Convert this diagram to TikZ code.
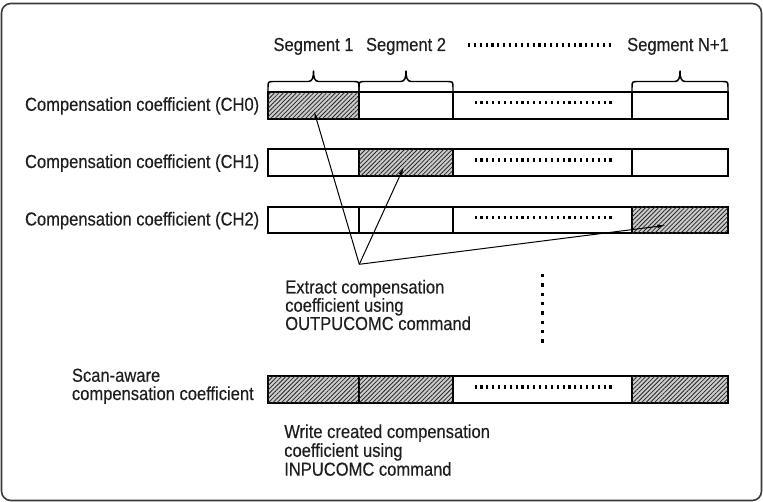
\documentclass[tikz,border=0pt]{standalone}
\usepackage{fontspec}
\setmainfont{Liberation Sans}[FakeStretch=0.88,FakeBold=0.35]
\usetikzlibrary{arrows.meta,patterns.meta,calc}

\definecolor{inkgray}{HTML}{1E1E1E}
\definecolor{framegray}{HTML}{3A3A3A}

\tikzset{
  lbl/.style={inner sep=0pt, text=inkgray, font=\fontsize{14.1pt}{13.7pt}\selectfont},
  cell/.style={draw=black, line width=1.5pt, fill=white, inner sep=0pt,
               minimum height=19.9pt},
  hatched/.style={cell, fill=gray!40,
     postaction={pattern={Lines[angle=45,distance=2.3pt,line width=0.6pt]},
                 pattern color=black!85}},
  brace/.style={draw=black, line width=1.1pt, line join=round},
  fine dots/.style={draw=black, line width=2.3pt, dash pattern=on 1.6pt off 2.8pt},
  big dots/.style={draw=black, line width=2.6pt, dash pattern=on 2.6pt off 4.4pt},
  pick/.style={draw=black, line width=0.75pt, -{Latex[length=6.5pt,width=2.8pt]}},
}

\begin{document}
\begin{tikzpicture}[x=0.75pt,y=-0.75pt]
\useasboundingbox (0,0) rectangle (763,502);

% outer frame
\draw[framegray, line width=1.2pt, rounded corners=7pt] (1.5,3.5) rectangle (761.5,500.5);

% segment headings
\node[lbl, anchor=base] (hs1) at (313.5,51) {Segment 1};
\node[lbl, anchor=base] (hs2) at (406,51) {Segment 2};
\node[lbl, anchor=base] (hsn) at (678,51) {Segment N+1};
\draw[fine dots] (468,45) -- (611,45);

% braces above the first row
\foreach \xa/\xb in {268/359, 359/453, 632/728}{
  \pgfmathsetmacro\xm{(\xa+\xb)/2}
  \draw[brace] (\xa,92) -- (\xa,87.5) .. controls (\xa,81.5) .. (\xa+7,81.5)
     -- (\xm-5,81.5) .. controls (\xm-1,81.5) and (\xm,77) .. (\xm,71)
     .. controls (\xm,77) and (\xm+1,81.5) .. (\xm+5,81.5)
     -- (\xb-7,81.5) .. controls (\xb,81.5) .. (\xb,87.5) -- (\xb,92);
}

% channel rows: cells A (segment 1), B (segment 2), D (dots), N (segment N+1)
% row 0
\node[hatched, minimum width=68.25pt] (r0a) at (313.5,105.4) {};
\node[cell,    minimum width=70.5pt]  (r0b) at (406,105.4) {};
\node[cell,    minimum width=134.25pt](r0d) at (542.5,105.4) {};
\node[cell,    minimum width=72pt]    (r0n) at (680,105.4) {};
% row 1
\node[cell,    minimum width=68.25pt] (r1a) at (313.5,162.5) {};
\node[hatched, minimum width=70.5pt]  (r1b) at (406,162.5) {};
\node[cell,    minimum width=134.25pt](r1d) at (542.5,162.5) {};
\node[cell,    minimum width=72pt]    (r1n) at (680,162.5) {};
% row 2
\node[cell,    minimum width=68.25pt] (r2a) at (313.5,220) {};
\node[cell,    minimum width=70.5pt]  (r2b) at (406,220) {};
\node[cell,    minimum width=134.25pt](r2d) at (542.5,220) {};
\node[hatched, minimum width=72pt]    (r2n) at (680,220) {};
% combined row
\node[hatched, minimum width=68.25pt] (rsa) at (313.5,389.5) {};
\node[hatched, minimum width=70.5pt]  (rsb) at (406,389.5) {};
\node[cell,    minimum width=134.25pt](rsd) at (542.5,389.5) {};
\node[hatched, minimum width=72pt]    (rsn) at (680,389.5) {};

% elided segments inside each row
\foreach \r in {r0,r1,r2,rs}{
  \draw[fine dots] ($(\r d.center)+(-68,-2.5)$) -- ($(\r d.center)+(69,-2.5)$);
}

% row labels
\node[lbl, anchor=base east] (l0) at (259.5,110.8) {Compensation coefficient (CH0)};
\node[lbl, anchor=base east] (l1) at (259.5,168) {Compensation coefficient (CH1)};
\node[lbl, anchor=base east] (l2) at (259.5,225.5) {Compensation coefficient (CH2)};
% (base anchor of a multi-line node sits on its last line)
\node[lbl, anchor=base west, align=left] (ls) at (71.7,400) {Scan-aware\\compensation coefficient};

% extraction arrows
\coordinate (hub) at (359.3,264.3);
\coordinate (t0) at ($(r0a.center)+(0.5,5.6)$);
\coordinate (t1) at ($(r1b.center)+(-2,4.2)$);
\coordinate (t2) at ($(r2n.center)+(-14,5.3)$);
\draw[pick] (hub) -- (t0);
\draw[pick] (hub) -- (t1);
\draw[pick] (hub) -- (t2);

% notes
\node[lbl, anchor=base west, align=left]
  (nx) at (285,330) {Extract compensation\\coefficient using\\OUTPUCOMC command};
\node[lbl, anchor=base west, align=left, font=\fontsize{14.1pt}{12.6pt}\selectfont]
  (nw) at (284,475.7) {Write created compensation\\coefficient using\\INPUCOMC command};

% further channels omitted
\draw[big dots] (542.3,274) -- (542.3,344);

\end{tikzpicture}
\end{document}
